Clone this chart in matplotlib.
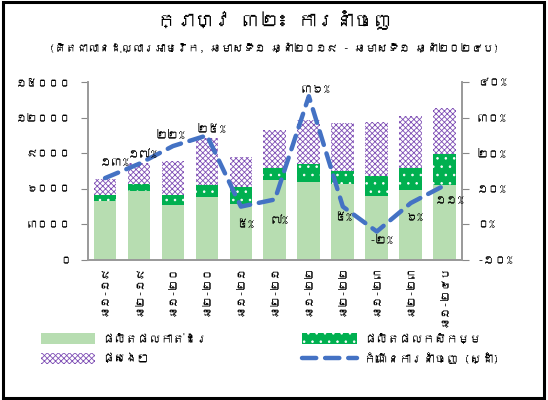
import matplotlib
matplotlib.use('Agg')
import matplotlib.pyplot as plt
from matplotlib import font_manager
from matplotlib.patches import Patch, Rectangle
from matplotlib.lines import Line2D
import numpy as np

# ទិន្នន័យ (លានដុល្លារ)
periods = ['ឆ១-១៩', 'ឆ២-១៩', 'ឆ១-២០', 'ឆ២-២០', 'ឆ១-២១', 'ឆ២-២១',
           'ឆ១-២២', 'ឆ២-២២', 'ឆ១-២៣', 'ឆ២-២៣', 'ឆ១-២៤ប']
garments = [4940, 5790, 4600, 5280, 4720, 6700, 6590, 6440, 5360, 5930, 6300]
agriculture = [510, 630, 910, 1050, 1410, 1040, 1460, 1100, 1760, 1800, 2600]
others = [1410, 1780, 2820, 3920, 2570, 3190, 3750, 3980, 4470, 4410, 3900]
growth = [13, 17, 22, 25, 5, 7, 36, 5, -2, 6, 11]
growth_labels = ['១៣%', '១៧%', '២២%', '២៥%', '៥%', '៧%', '៣៦%', '៥%', '-២%', '៦%', '១១%']

left_ticks = [0, 3000, 6000, 9000, 12000, 15000]
left_ticklabels = ['០', '៣០០០', '៦០០០', '៩០០០', '១២០០០', '១៥០០០']
right_ticks = [-10, 0, 10, 20, 30, 40]
right_ticklabels = ['-១០%', '០%', '១០%', '២០%', '៣០%', '៤០%']

title = 'ក្រាហ្វ ៣២៖ ការនាំចេញ'
subtitle = '(គិតជាលានដុល្លារអាមេរិក, ឆមាសទី១ ឆ្នាំ២០១៩ - ឆមាសទី១ ឆ្នាំ២០២៤ប)'
legend_labels = ['ផលិតផលកាត់ដេរ', 'ផ្សេងៗ', 'ផលិតផលកសិកម្ម', 'កំណើនការនាំចេញ (ស្ដាំ)']


def find_khmer_font():
    # រកពុម្ពអក្សរដែលមានតួអក្សរខ្មែរ
    try:
        from fontTools.ttLib import TTFont
    except Exception:
        return None
    for f in font_manager.fontManager.ttflist:
        try:
            tt = TTFont(f.fname, fontNumber=0, lazy=True)
            cmap = tt.getBestCmap()
            if cmap and 0x1780 in cmap:
                return f.name
        except Exception:
            continue
    return None


kh = find_khmer_font()
families = [kh, 'DejaVu Sans'] if kh else ['DejaVu Sans']
plt.rcParams['font.family'] = families
plt.rcParams['hatch.linewidth'] = 0.6

fig = plt.figure(figsize=(5.48, 4.0), dpi=100)
ax = fig.add_axes([0.1606, 0.35, 0.682, 0.445])
ax2 = ax.twinx()

x = np.arange(len(periods))
w = 0.67
c_gar = '#B7DDB1'
c_agr = '#00B050'
c_oth = '#7F4FB5'

ax.bar(x, garments, w, color=c_gar, linewidth=0)
ax.bar(x, agriculture, w, bottom=garments, facecolor=c_agr,
       edgecolor='white', hatch='..', linewidth=0)
bottom2 = np.array(garments) + np.array(agriculture)
ax.bar(x, others, w, bottom=bottom2, facecolor='white',
       edgecolor=c_oth, hatch='xxxxxx', linewidth=0)

ax.set_xlim(-0.5, len(periods) - 0.5)
ax.set_ylim(0, 15000)
ax.set_yticks(left_ticks)
ax.set_yticklabels(left_ticklabels, fontsize=8)
ax.set_xticks(x)
ax.set_xticklabels(periods, rotation=90, fontsize=8)
ax.tick_params(axis='x', length=0, pad=4)
ax.tick_params(axis='y', color='#888888', length=5, pad=7)

ax2.plot(x, growth, color='#4472C4', linewidth=3.2,
         linestyle=(0, (3.2, 2.0)), dash_capstyle='round', zorder=5)
ax2.set_ylim(-10, 40)
ax2.set_yticks(right_ticks)
ax2.set_yticklabels(right_ticklabels, fontsize=8.5)
ax2.tick_params(axis='y', color='#888888', length=5, pad=6)

for a in (ax, ax2):
    a.spines['top'].set_visible(False)
    for s in ('left', 'right', 'bottom'):
        a.spines[s].set_color('#999999')
        a.spines[s].set_linewidth(1.2)

# ទីតាំងស្លាក (pixel offsets)
offsets = [(10, 16), (4, 10), (-3, 11), (4, 6), (4, -17), (5, -21),
           (6, 7), (0, -10), (4, -8), (4, -14), (5, -15)]
for i, (g, lab) in enumerate(zip(growth, growth_labels)):
    dx, dy = offsets[i]
    ax2.annotate(lab, (x[i], g), xytext=(dx * 0.72, dy * 0.72),
                 textcoords='offset points', ha='center', va='center',
                 fontsize=8.5, zorder=6)

fig.text(0.5, 0.95, title, ha='center', va='center', fontsize=13.5, weight='bold')
fig.text(0.5, 0.882, subtitle, ha='center', va='center', fontsize=8)

handles = [Patch(facecolor=c_gar, linewidth=0),
           Patch(facecolor='white', edgecolor=c_oth, hatch='xxxxxx', linewidth=0),
           Patch(facecolor=c_agr, edgecolor='white', hatch='..', linewidth=0),
           Line2D([], [], color='#4472C4', linewidth=3.2,
                  linestyle=(0, (3.2, 2.0)), dash_capstyle='round')]
fig.legend(handles, legend_labels, ncol=2, loc='upper left',
           bbox_to_anchor=(0.055, 0.195), frameon=False, fontsize=8.5,
           handlelength=4.6, handleheight=1.1, columnspacing=8.0,
           labelspacing=0.7, handletextpad=0.6)

fig.patches.append(Rectangle((0.005, 0.006), 0.988, 0.988, transform=fig.transFigure,
                             fill=False, edgecolor='black', linewidth=2.2))

fig.savefig('out.png', dpi=100)
